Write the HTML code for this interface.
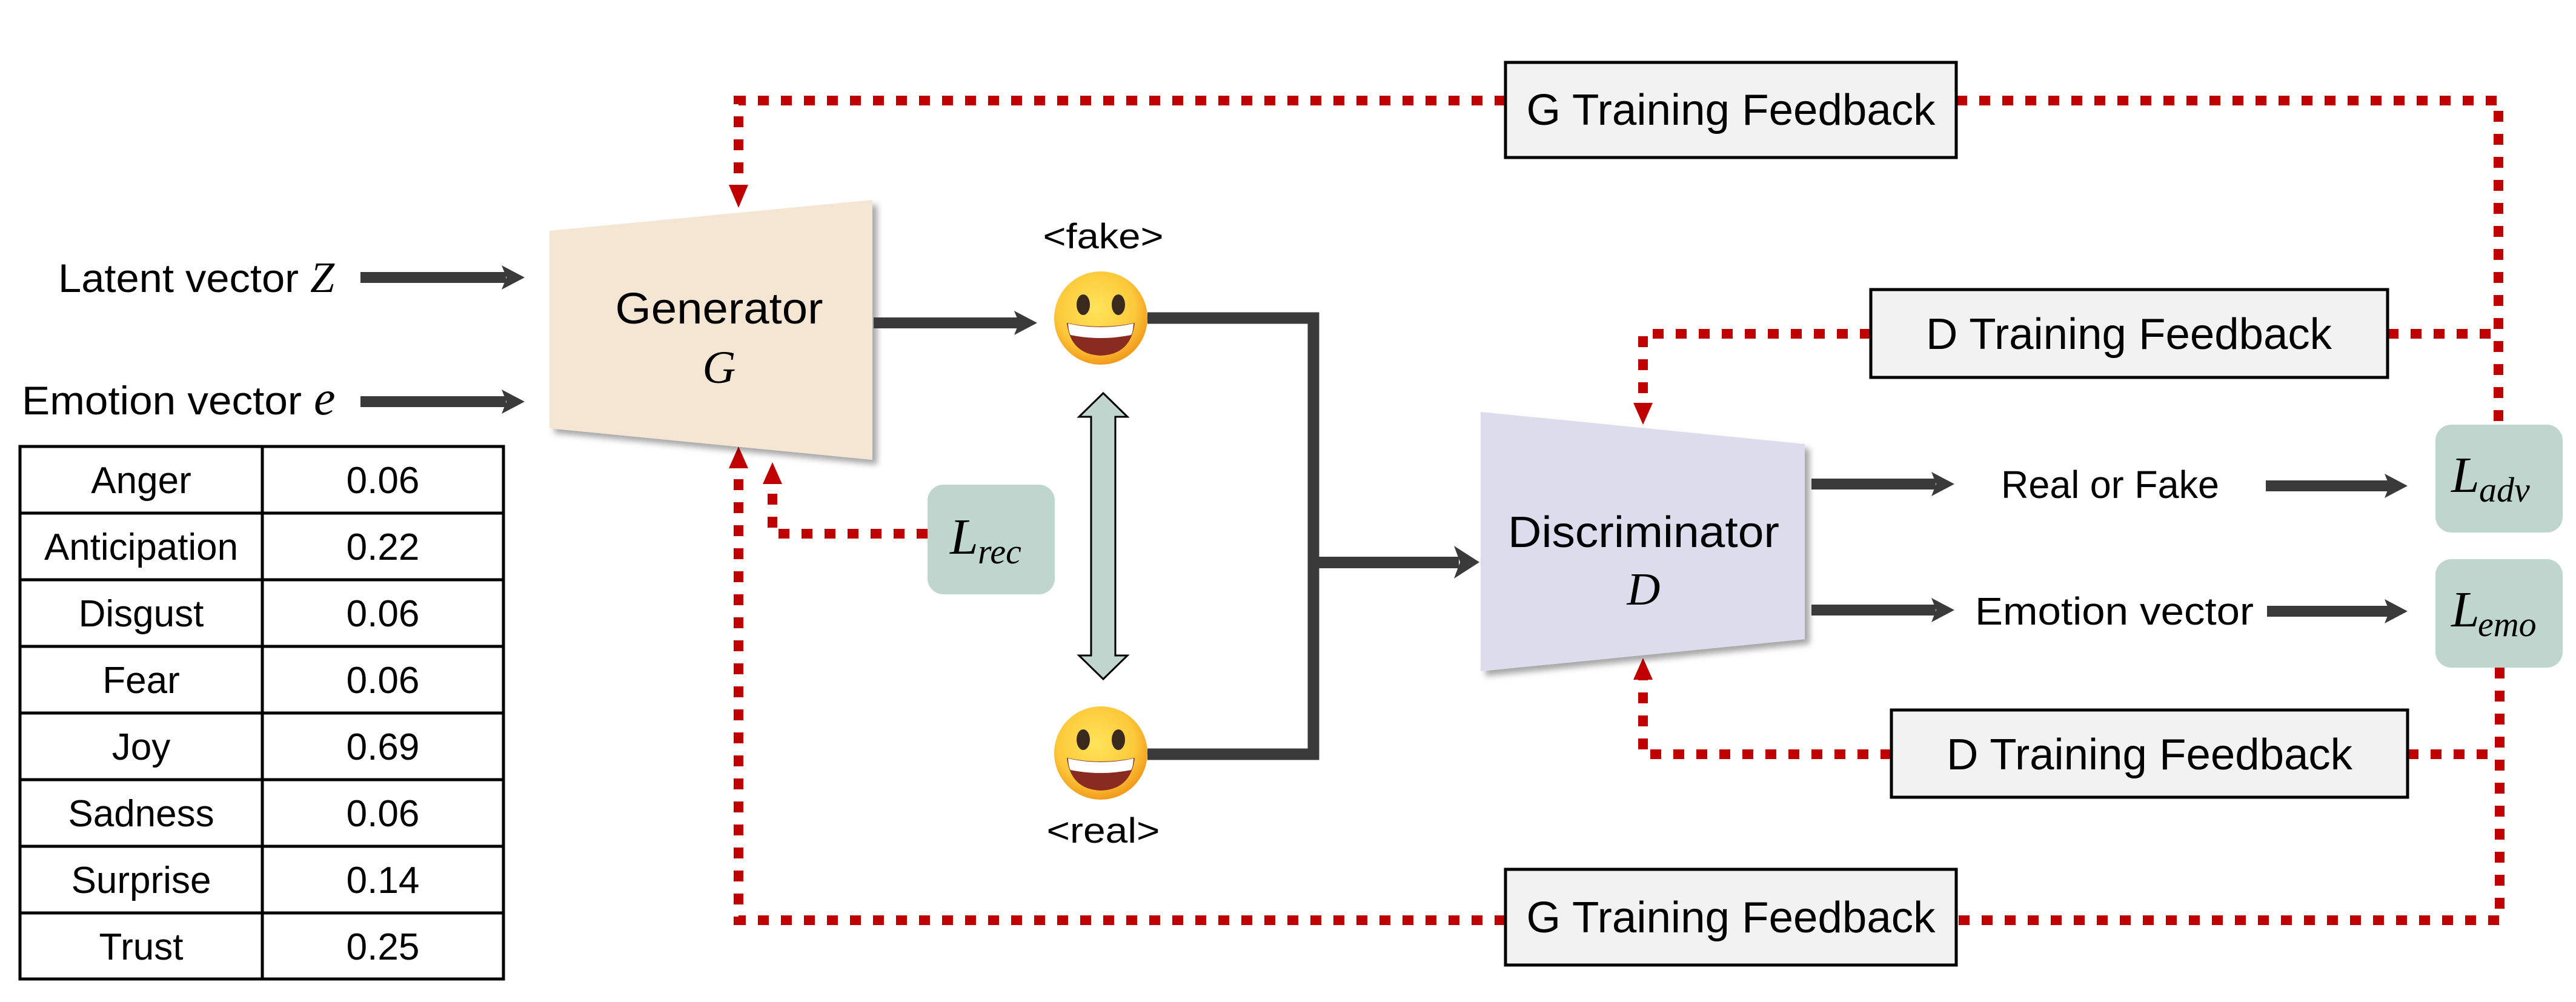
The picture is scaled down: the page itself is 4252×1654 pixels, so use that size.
<!DOCTYPE html>
<html><head><meta charset="utf-8"><style>
html,body{margin:0;padding:0;background:#fff;}
svg{display:block;}
text{font-family:"Liberation Sans",sans-serif;fill:#000;}
.m{font-family:"Liberation Serif",serif;font-style:italic;}
</style></head><body>
<svg width="4252" height="1654" viewBox="0 0 4252 1654" xmlns="http://www.w3.org/2000/svg">
<defs>
<filter id="sh" x="-10%" y="-10%" width="130%" height="130%"><feDropShadow dx="8" dy="8" stdDeviation="5" flood-color="#000" flood-opacity="0.35"/></filter>
<radialGradient id="eg" cx="45%" cy="40%" r="60%"><stop offset="0" stop-color="#ffe45a"/><stop offset="0.7" stop-color="#fcc93a"/><stop offset="1" stop-color="#f29a1c"/></radialGradient>
</defs>

<g fill="none" stroke="#c00000" stroke-width="16" stroke-dasharray="18 20">
<path d="M2485 166 H1219 V310"/>
<path d="M3229 166 H4124 V701"/>
<path d="M3088 551 H2712 V670"/>
<path d="M3941 551 H4124"/>
<path d="M3122 1245 H2712 V1118"/>
<path d="M3974 1245 H4126"/>
<path d="M4126 1102 V1519 H3229"/>
<path d="M2485 1519 H1219 V770"/>
<path d="M1531 881 H1275 V795"/>
</g>
<g fill="#c00000">
<polygon points="1203,305 1235,305 1219,343"/>
<polygon points="2696,665 2728,665 2712,701"/>
<polygon points="2696,1122 2728,1122 2712,1086"/>
<polygon points="1203,773 1235,773 1219,737"/>
<polygon points="1259,799 1291,799 1275,763"/>
</g>

<polygon points="907,381 1440,330 1440,759 907,707" fill="#f5e6d3" filter="url(#sh)"/>
<text x="1187" y="534" font-size="72" text-anchor="middle" textLength="343" lengthAdjust="spacingAndGlyphs">Generator</text>
<text class="m" x="1187" y="632" font-size="76" text-anchor="middle">G</text>

<polygon points="2444,680 2979,733 2979,1055 2444,1108" fill="#dcdcec" filter="url(#sh)"/>
<text x="2713" y="903" font-size="72" text-anchor="middle" textLength="448" lengthAdjust="spacingAndGlyphs">Discriminator</text>
<text class="m" x="2713" y="998" font-size="76" text-anchor="middle">D</text>

<text x="96" y="482" font-size="66" textLength="397" lengthAdjust="spacingAndGlyphs">Latent vector</text>
<text class="m" x="512" y="482" font-size="72">Z</text>
<text x="36" y="684" font-size="66" textLength="462" lengthAdjust="spacingAndGlyphs">Emotion vector</text>
<text class="m" x="518" y="684" font-size="80">e</text>

<g fill="#3a3a3a" stroke="none">
<rect x="595" y="449" width="240" height="18"/><polygon points="828,438 866,458 828,478 836,458"/>
<rect x="595" y="654" width="240" height="18"/><polygon points="828,643 866,663 828,683 836,663"/>
<rect x="1442" y="524" width="240" height="18"/><polygon points="1674,513 1712,533 1674,553 1682,533"/>
<rect x="2990" y="790" width="205" height="18"/><polygon points="3188,779 3226,799 3188,819 3196,799"/>
<rect x="3740" y="793" width="205" height="18"/><polygon points="3936,782 3974,802 3936,822 3944,802"/>
<rect x="2990" y="998" width="205" height="18"/><polygon points="3188,987 3226,1007 3188,1027 3196,1007"/>
<rect x="3742" y="1000" width="205" height="18"/><polygon points="3936,989 3974,1009 3936,1029 3944,1009"/>
<rect x="2168" y="919" width="240" height="19"/><polygon points="2400,901 2442,928 2400,955 2410,928"/>
</g>
<path d="M1894 525 H2168 V1245 H1894" fill="none" stroke="#3a3a3a" stroke-width="19"/>

<g stroke="#000" stroke-width="5" fill="none">
<rect x="33" y="737" width="798" height="879"/>
<line x1="433" y1="737" x2="433" y2="1616"/>
<line x1="33" y1="847" x2="831" y2="847"/>
<line x1="33" y1="957" x2="831" y2="957"/>
<line x1="33" y1="1067" x2="831" y2="1067"/>
<line x1="33" y1="1177" x2="831" y2="1177"/>
<line x1="33" y1="1287" x2="831" y2="1287"/>
<line x1="33" y1="1397" x2="831" y2="1397"/>
<line x1="33" y1="1507" x2="831" y2="1507"/>
</g>
<g font-size="62" text-anchor="middle">
<text x="233" y="814">Anger</text><text x="632" y="814">0.06</text>
<text x="233" y="924" textLength="320" lengthAdjust="spacingAndGlyphs">Anticipation</text><text x="632" y="924">0.22</text>
<text x="233" y="1034">Disgust</text><text x="632" y="1034">0.06</text>
<text x="233" y="1144">Fear</text><text x="632" y="1144">0.06</text>
<text x="233" y="1254">Joy</text><text x="632" y="1254">0.69</text>
<text x="233" y="1364">Sadness</text><text x="632" y="1364">0.06</text>
<text x="233" y="1474">Surprise</text><text x="632" y="1474">0.14</text>
<text x="233" y="1584">Trust</text><text x="632" y="1584">0.25</text>
</g>

<g transform="translate(1817,525)">
<circle r="77" fill="url(#eg)"/>
<ellipse cx="-29" cy="-22" rx="11" ry="17" fill="#3a2a1e"/>
<ellipse cx="29" cy="-22" rx="11" ry="17" fill="#3a2a1e"/>
<path d="M-56 8 Q0 20 56 8 Q50 60 0 62 Q-50 60 -56 8 Z" fill="#8a2b22"/>
<path d="M-54 9 Q0 21 54 9 Q53 24 50 28 Q0 38 -50 28 Q-53 24 -54 9 Z" fill="#fff"/>
</g>
<g transform="translate(1817,1243)">
<circle r="77" fill="url(#eg)"/>
<ellipse cx="-29" cy="-22" rx="11" ry="17" fill="#3a2a1e"/>
<ellipse cx="29" cy="-22" rx="11" ry="17" fill="#3a2a1e"/>
<path d="M-56 8 Q0 20 56 8 Q50 60 0 62 Q-50 60 -56 8 Z" fill="#8a2b22"/>
<path d="M-54 9 Q0 21 54 9 Q53 24 50 28 Q0 38 -50 28 Q-53 24 -54 9 Z" fill="#fff"/>
</g>
<text x="1821" y="410" font-size="58" text-anchor="middle" textLength="199" lengthAdjust="spacingAndGlyphs">&lt;fake&gt;</text>
<text x="1821" y="1391" font-size="58" text-anchor="middle" textLength="187" lengthAdjust="spacingAndGlyphs">&lt;real&gt;</text>

<polygon points="1821,649 1861,688 1841,688 1841,1082 1861,1082 1821,1121 1781,1082 1801,1082 1801,688 1781,688" fill="#c0d6cf" stroke="#000" stroke-width="3"/>

<rect x="1531" y="800" width="210" height="181" rx="26" fill="#bfd6cf"/>
<text class="m" x="1568" y="914" font-size="84">L</text><text class="m" x="1614" y="930" font-size="58">rec</text>
<rect x="4020" y="701" width="210" height="178" rx="26" fill="#bfd6cf"/>
<text class="m" x="4046" y="812" font-size="84">L</text><text class="m" x="4092" y="828" font-size="58">adv</text>
<rect x="4020" y="923" width="210" height="179" rx="26" fill="#bfd6cf"/>
<text class="m" x="4046" y="1034" font-size="84">L</text><text class="m" x="4090" y="1050" font-size="58">emo</text>

<text x="3303" y="822" font-size="64" textLength="360" lengthAdjust="spacingAndGlyphs">Real or Fake</text>
<text x="3260" y="1031" font-size="64" textLength="460" lengthAdjust="spacingAndGlyphs">Emotion vector</text>

<g fill="#f2f2f2" stroke="#000" stroke-width="5">
<rect x="2485" y="103" width="744" height="157"/>
<rect x="3088" y="478" width="853" height="145"/>
<rect x="3122" y="1172" width="852" height="144"/>
<rect x="2485" y="1435" width="744" height="158"/>
</g>
<g font-size="72" text-anchor="middle">
<text x="2857" y="206" textLength="675" lengthAdjust="spacingAndGlyphs">G Training Feedback</text>
<text x="3514" y="576" textLength="670" lengthAdjust="spacingAndGlyphs">D Training Feedback</text>
<text x="3548" y="1270" textLength="670" lengthAdjust="spacingAndGlyphs">D Training Feedback</text>
<text x="2857" y="1539" textLength="675" lengthAdjust="spacingAndGlyphs">G Training Feedback</text>
</g>
</svg>
</body></html>
